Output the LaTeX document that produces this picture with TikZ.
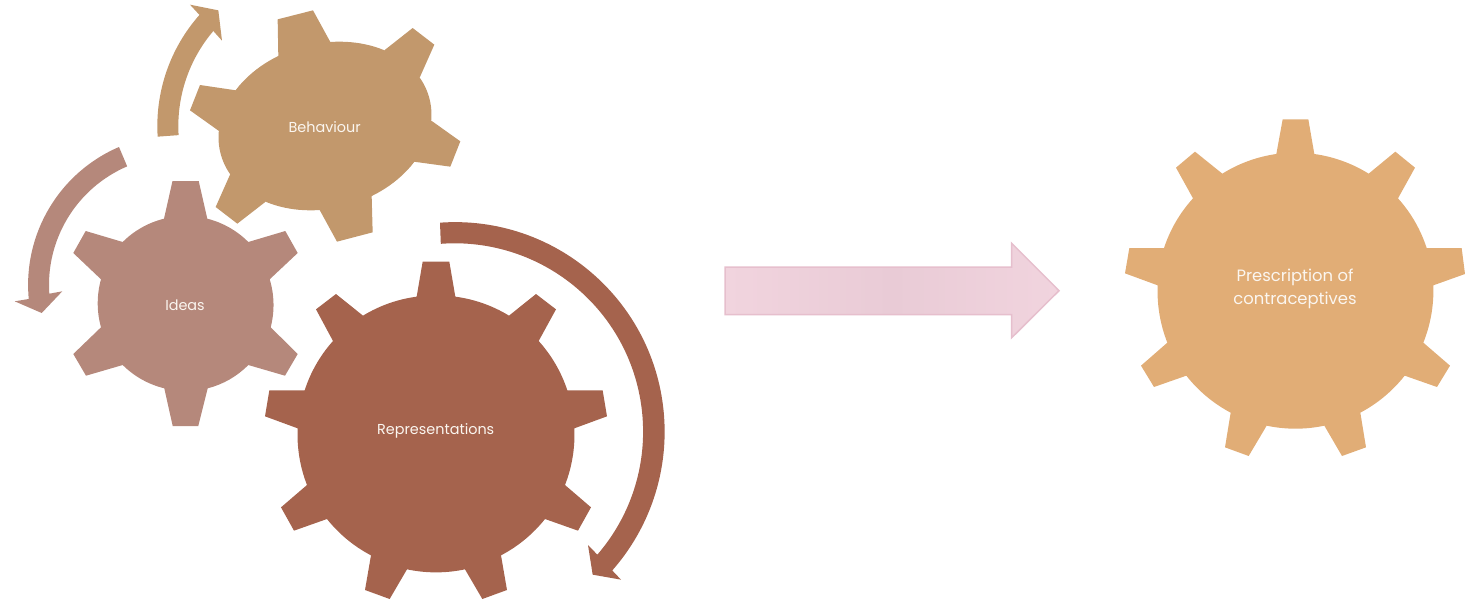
\documentclass[tikz,border=0pt]{standalone}
\usepackage{fontspec}
\setmainfont{Poppins}
\definecolor{behav}{HTML}{C2986C}
\definecolor{ideac}{HTML}{B5887B}
\definecolor{repc}{HTML}{A5634D}
\definecolor{presc}{HTML}{E1AD76}
\definecolor{pinkA}{HTML}{F1D4DE}
\definecolor{pinkB}{HTML}{E9CBD6}
\definecolor{pinkL}{HTML}{E6BFCD}
\definecolor{labelc}{HTML}{FBF6F0}
\tikzset{
  zoomed/.style={x=0.33333pt,y=-0.33333pt},
  rim/.style={bend left=12,looseness=0.86},
  rimb/.style={bend left=15.6,looseness=0.87},
  gearlabel/.style={text=labelc,align=center,inner sep=0pt,font=\fontsize{14.4}{23}\selectfont},
  biglabel/.style={gearlabel,font=\fontsize{16.4}{23}\selectfont},
}
\begin{document}
\begin{tikzpicture}[x=1pt,y=-1pt]
\useasboundingbox (0,0) rectangle (1465,603);
% Behaviour gear: elliptical body and six teeth
\begin{scope}[zoomed]
\fill[behav,rotate around={15:(975,378)}] (975,378) ellipse [x radius=108pt,y radius=82.33pt];
\fill[behav] (835,170) -- (833,58) -- (939,31) -- (991,126) -- cycle;
\fill[behav] (1153,151) -- (1238,84) -- (1303,134) -- (1259,233) -- cycle;
\fill[behav] (1294,362) -- (1381,424) -- (1351,500) -- (1241,485) -- cycle;
\fill[behav] (1115,587) -- (1118,697) -- (1011,725) -- (959,630) -- cycle;
\fill[behav] (797,605) -- (712,671) -- (647,621) -- (691,522) -- cycle;
\fill[behav] (657,393) -- (570,331) -- (600,255) -- (708,271) -- cycle;
% Behaviour arrow
\fill[behav] (473,410) arc[start angle=183.6,end angle=138.5,radius=167.83pt] -- (570,14) -- (655,31) -- (666,122) -- (640,93) arc[start angle=139.6,end angle=183.5,radius=146.83pt] -- cycle;
\end{scope}
% Ideas gear
\fill[ideac] (172.5,181) -- (198.7,181) -- (207.3,218.7) to[rimb] (248.3,242) -- (285.3,231) -- (297.7,253) -- (269.7,279.3) to[rimb] (270.7,327.3) -- (297.7,354) -- (285,375.7) -- (248.3,365) to[rimb] (207.7,388.3) -- (198.3,426) -- (172.7,426) -- (164.3,388.3) to[rimb] (122.7,365) -- (86,375.7) -- (73.3,354) -- (101,327.3) to[rimb] (101,279.3) -- (73.3,253) -- (85.7,231) -- (122.7,242) to[rimb] (164,218.7) -- cycle;
% Ideas arrow
\fill[ideac] (119,147) arc[start angle=113.2,end angle=185.4,radius=150pt] -- (14.7,301.3) -- (41.7,313) -- (62.3,291.3) -- (49.3,293.7) arc[start angle=183.9,end angle=113.2,radius=129pt] -- cycle;
% Representations gear
\begin{scope}[zoomed,shift={(250pt,-210pt)}]
\fill[repc] (518,155) -- (598,155) -- (616,260) to[rim] (777,317) -- (858,252) -- (918,298) -- (866,393) to[rim] (952,541) -- (1058,541) -- (1071,619) -- (973,655) to[rim] (945,825) -- (1023,892) -- (984,962) -- (885,927) to[rim] (753,1036) -- (771,1140) -- (697,1167) -- (645,1078) to[rim] (471,1078) -- (419,1167) -- (345,1140) -- (363,1036) to[rim] (231,927) -- (132,962) -- (93,892) -- (171,825) to[rim] (143,655) -- (45,619) -- (58,541) -- (164,541) to[rim] (249,393) -- (198,298) -- (258,252) -- (339,317) to[rim] (500,260) -- cycle;
% Representations arrow
\fill[repc] (570,38) arc[start angle=94.1,end angle=-41.4,radius=209.67pt] -- (1113,1109) -- (1028,1094) -- (1014,1005) -- (1042,1034) arc[start angle=-40.8,end angle=94.25,radius=188.33pt] -- cycle;
\end{scope}
% Prescription gear
\begin{scope}[zoomed,shift={(1110pt,-110pt)}]
\fill[presc] (518,28) -- (595,28) -- (613,132) to[rim] (776,191) -- (856,125) -- (915,173) -- (864,265) to[rim] (950,414) -- (1055,414) -- (1065,492) -- (970,526) to[rim] (940,698) -- (1020,767) -- (981,831) -- (884,797) to[rim] (751,908) -- (768,1012) -- (696,1038) -- (643,947) to[rim] (470,947) -- (416,1038) -- (345,1012) -- (362,908) to[rim] (229,797) -- (132,831) -- (93,767) -- (172,698) to[rim] (143,526) -- (45,490) -- (58,414) -- (162,414) to[rim] (249,265) -- (198,173) -- (255,125) -- (337,191) to[rim] (499,132) -- cycle;
\end{scope}
% Block arrow
\path[draw=pinkL,line width=1.5pt,shade,shading=axis,left color=pinkA,right color=pinkA,middle color=pinkB] (725,267) -- (1011.7,267) -- (1011.7,243.3) -- (1059,290.7) -- (1011.7,337.7) -- (1011.7,314.7) -- (725,314.7) -- cycle;
% Labels
\node[gearlabel] (behaviour) at (324.7,127) {Behaviour};
\node[gearlabel] (ideas) at (185,305) {Ideas};
\node[gearlabel] (representations) at (435.7,431) {Representations};
\node[biglabel] (prescription) at (1295,288.5) {Prescription of\\contraceptives};
\end{tikzpicture}
\end{document}
